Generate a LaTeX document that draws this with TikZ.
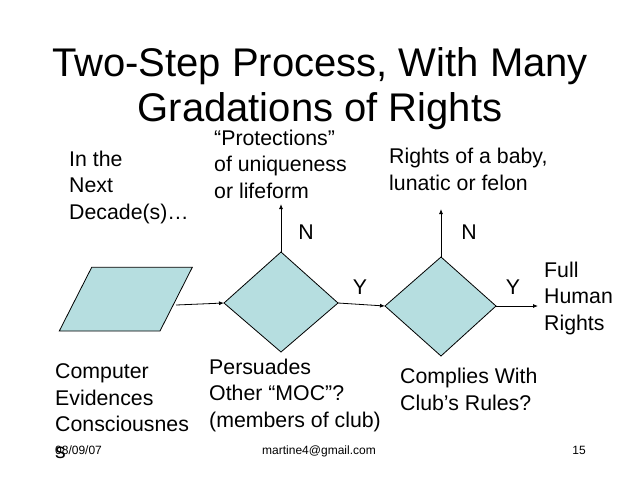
\documentclass[tikz,border=0pt]{standalone}
\usepackage{fontspec}
\setmainfont{Liberation Sans}
\usetikzlibrary{arrows.meta}
\definecolor{shapefill}{RGB}{182,222,224}
\begin{document}
\begin{tikzpicture}[x=1pt,y=-1pt,
  shapebox/.style={draw=black,line width=0.8pt,fill=shapefill,line join=miter},
  flow/.style={draw=black,line width=0.8pt,-{Latex[length=5pt,width=4pt]}},
  body/.style={font=\fontsize{21.3}{26.5}\selectfont,align=left,inner sep=0pt,anchor=base west},
  lab/.style={font=\fontsize{21.3}{24}\selectfont,inner sep=0pt,anchor=base},
  foot/.style={font=\fontsize{12}{14}\selectfont,inner sep=0pt,anchor=base}
]
\useasboundingbox[fill=white] (0,0) rectangle (640,480);
% title
\node[font=\fontsize{40}{45}\selectfont,align=center,inner sep=0pt,anchor=base] (title) at (320,121)
  {Two-Step Process, With Many\\Gradations of Rights};
% shapes
\draw[shapebox] (91.7,267.3) -- (192.3,267.3) -- (160,331) -- (59.3,331) -- cycle;
\coordinate (para) at (176,305);
\draw[shapebox] (224,303) -- (281,252) -- (338,303) -- (281,352) -- cycle;
\coordinate (d1l) at (224,303);
\coordinate (d1t) at (281,252);
\coordinate (d1r) at (338,303);
\draw[shapebox] (385,306) -- (441,257) -- (496,306) -- (441,356) -- cycle;
\coordinate (d2l) at (385,306);
\coordinate (d2t) at (441,257);
\coordinate (d2r) at (496,306);
\coordinate (up1) at (281,204);
\coordinate (up2) at (441,209);
\coordinate (out) at (538,306);
% connectors
\draw[flow] (para) -- (d1l);
\draw[flow] (d1r) -- (d2l);
\draw[flow] (d1t) -- (up1);
\draw[flow] (d2t) -- (up2);
\draw[flow] (d2r) -- (out);
% labels
\node[lab] (n1) at (306,239) {N};
\node[lab] (n2) at (469,239) {N};
\node[lab] (y1) at (360,294) {Y};
\node[lab] (y2) at (513,294) {Y};
% texts (anchored at the baseline of the last line)
\node[body] (t1) at (69,219) {In the\\Next\\Decade(s)\dots};
\node[body] (t2) at (214,198) {“Protections”\\of uniqueness\\or lifeform};
\node[body] (t3) at (389,190) {Rights of a baby,\\lunatic or felon};
\node[body] (t4) at (544,330) {Full\\Human\\Rights};
\node[body] (t5) at (55,458) {Computer\\Evidences\\Consciousnes\\s};
\node[body] (t6) at (209,427) {Persuades\\Other “MOC”?\\(members of club)};
\node[body] (t7) at (400,410) {Complies With\\Club’s Rules?};
% footer
\node[foot,anchor=base west] (date) at (55,454) {08/09/07};
\node[foot] (mail) at (319,454) {martine4@gmail.com};
\node[foot] (page) at (579,454) {15};
\end{tikzpicture}
\end{document}
